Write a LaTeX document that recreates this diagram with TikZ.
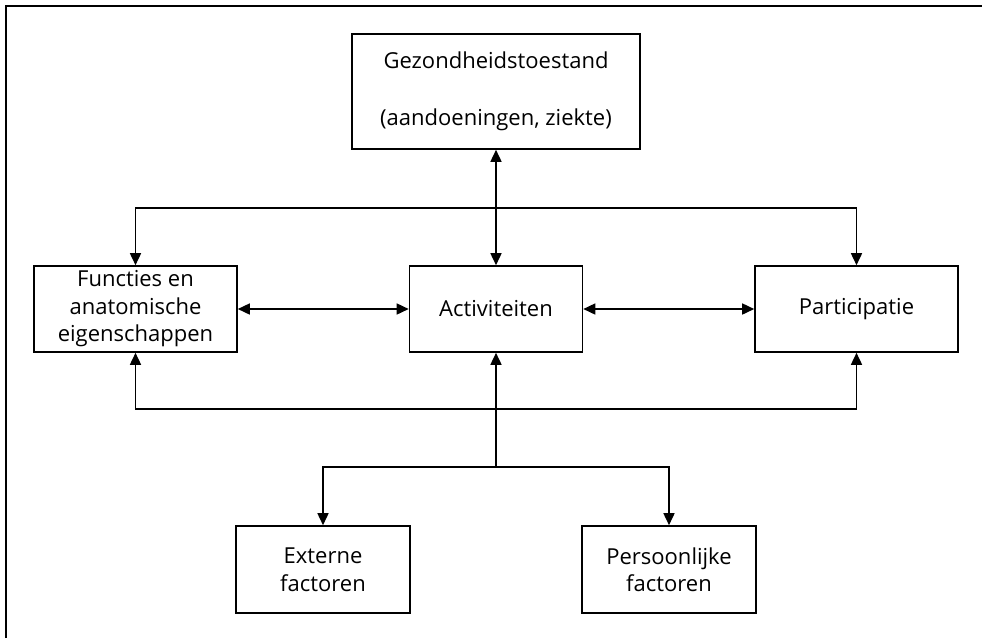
\documentclass[tikz,border=0pt]{standalone}
\usepackage{fontspec}
\setmainfont{Open Sans}
\usepackage{tikz}
\usetikzlibrary{arrows.meta, positioning}
\tikzset{
x=1pt, y=-1pt, % one unit is one pixel of the reference, y runs downwards
>={Triangle[length=12pt, width=11pt]}, % filled arrow heads
every path/.style={line width=1.6pt},
box/.style={draw, align=center, inner sep=2pt, font=\fontsize{22}{27.5}\selectfont}, % the boxes of the model
}

\begin{document}
\begin{tikzpicture}
    \useasboundingbox (0,0) rectangle (982,638);
    \draw[line width=2.5pt] (6,638) -- (6,6) -- (982,6);

    \node[box, minimum width=288pt, minimum height=115pt] (gez) at (496,91.5) {Gezondheidstoestand\\[29pt](aandoeningen, ziekte)};
    \node[box, minimum width=173pt, minimum height=86pt] (act) at (496,309) {Activiteiten};
    \node[box, minimum width=203pt, minimum height=86pt] (fun) at (135.5,309) {Functies en\\anatomische\\eigenschappen};
    \node[box, minimum width=203pt, minimum height=86pt] (par) at (856.5,309) {Participatie};
    \node[box, minimum width=174pt, minimum height=87pt] (ext) at (323,569.5) {Externe\\factoren};
    \node[box, minimum width=174pt, minimum height=87pt] (per) at (669,569.5) {Persoonlijke\\factoren};

    \coordinate (hi) at (496,208);
    \coordinate (lo) at (496,409);
    \coordinate (split) at (496,467);

    \draw[<->] (gez) -- (act);
    \draw[<->] (fun) -- (act);
    \draw[<->] (act) -- (par);
    \draw[<->] (fun.north) |- (hi) -| (par.north);
    \draw[<->] (fun.south) |- (lo) -| (par.south);
    \draw[->] (split) -- (act);
    \draw[->] (split) -| (ext);
    \draw[->] (split) -| (per);
\end{tikzpicture}
\end{document}
